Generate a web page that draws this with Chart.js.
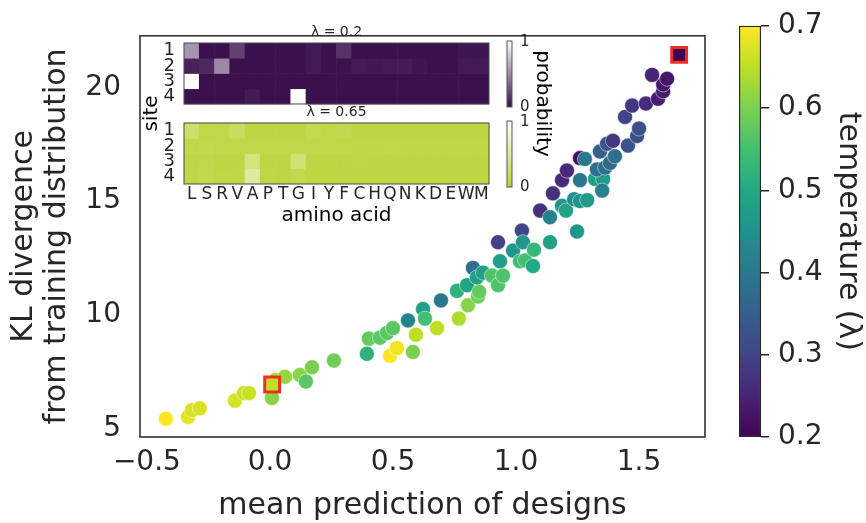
<!DOCTYPE html>
<html>
<head>
<meta charset="utf-8">
<script src="https://cdn.jsdelivr.net/npm/chart.js@4.4.1/dist/chart.umd.min.js"></script>
<style>
  html, body { margin: 0; padding: 0; background: #fff; }
  #wrap { position: relative; width: 866px; height: 523px; }
  canvas { position: absolute; }
</style>
</head>
<body>
<div id="wrap">
  <canvas id="mainChart" width="866" height="523" style="left:0;top:0"></canvas>
  <canvas id="cbarChart" width="146" height="523" style="left:720px;top:0"></canvas>
  <canvas id="insetChart" width="420" height="215" style="left:140px;top:17px"></canvas>
</div>
<script>
// データ
const meanPred = [-0.423, -0.333, -0.317, -0.285, -0.142, -0.106, -0.085, 0.008, 0.024, 0.061,
  0.122, 0.146, 0.171, 0.260, 0.394, 0.402, 0.447, 0.476, 0.500, 0.488,
  0.516, 0.581, 0.593, 0.679, 0.561, 0.622, 0.630, 0.695, 0.768, 0.805,
  0.760, 0.801, 0.846, 0.850, 0.825, 0.841, 0.866, 0.902, 0.927, 0.947,
  0.935, 0.927, 0.988, 1.024, 1.028, 1.016, 1.037, 1.073, 1.069, 1.138,
  1.098, 1.138, 1.187, 1.203, 1.248, 1.150, 1.187, 1.207, 1.260, 1.280,
  1.260, 1.236, 1.260, 1.289, 1.321, 1.354, 1.350, 1.329, 1.362, 1.382,
  1.402, 1.341, 1.370, 1.394, 1.455, 1.492, 1.500, 1.443, 1.472, 1.528,
  1.577, 1.598, 1.598, 1.614, 1.553];
const klDiv = [5.42, 5.50, 5.80, 5.88, 6.22, 6.55, 6.55, 6.34, 7.14, 7.27,
  7.35, 7.06, 7.69, 7.98, 8.28, 8.95, 8.99, 9.20, 9.41, 8.19,
  8.53, 8.36, 9.12, 9.41, 9.75, 10.25, 9.83, 10.63, 9.83, 10.42,
  11.05, 11.30, 10.80, 11.01, 12.06, 11.64, 11.85, 11.72, 11.30, 11.72,
  12.35, 13.19, 12.82, 13.70, 13.19, 12.35, 12.39, 12.86, 12.14, 13.19,
  14.58, 14.29, 14.79, 14.58, 13.66, 15.34, 15.92, 16.34, 16.89, 16.85,
  15.92, 15.08, 15.00, 15.04, 15.97, 15.97, 15.46, 16.39, 16.47, 16.68,
  16.97, 17.18, 17.52, 17.65, 17.44, 17.86, 18.19, 18.70, 19.20, 19.29,
  19.50, 19.83, 20.13, 20.38, 20.55];
const temperature = [0.70, 0.68, 0.67, 0.67, 0.67, 0.66, 0.66, 0.61, 0.64, 0.62,
  0.61, 0.57, 0.60, 0.59, 0.52, 0.58, 0.57, 0.57, 0.57, 0.70,
  0.69, 0.60, 0.65, 0.65, 0.42, 0.48, 0.55, 0.40, 0.64, 0.61,
  0.52, 0.49, 0.59, 0.58, 0.38, 0.48, 0.48, 0.56, 0.56, 0.56,
  0.48, 0.30, 0.46, 0.30, 0.46, 0.54, 0.55, 0.53, 0.50, 0.48,
  0.27, 0.42, 0.46, 0.49, 0.46, 0.27, 0.26, 0.26, 0.22, 0.40,
  0.40, 0.45, 0.45, 0.47, 0.48, 0.47, 0.42, 0.38, 0.38, 0.37,
  0.38, 0.35, 0.33, 0.28, 0.33, 0.32, 0.32, 0.30, 0.28, 0.26,
  0.24, 0.24, 0.23, 0.23, 0.25];

// 赤枠で強調した2点 (インセットの λ に対応)
const markedPred = [0.009, 1.663];
const markedKl = [6.93, 21.43];
const markedTemp = [0.65, 0.2];

const xTicks = [-0.5, 0, 0.5, 1.0, 1.5];
const yTicks = [5, 10, 15, 20];
const tempTicks = [0.2, 0.3, 0.4, 0.5, 0.6, 0.7];

// インセット ヒートマップ
const aminoAcids = ['L', 'S', 'R', 'V', 'A', 'P', 'T', 'G', 'I', 'Y', 'F', 'C', 'H', 'Q', 'N', 'K', 'D', 'E', 'W', 'M'];
const sites = [1, 2, 3, 4];
const probLow = [
  [0.55, 0, 0, 0.2, 0, 0, 0, 0, 0.04, 0, 0.14, 0, 0, 0, 0, 0, 0, 0, 0.02, 0.02],
  [0.07, 0.1, 0.5, 0, 0, 0, 0, 0, 0.04, 0, 0, 0.04, 0.03, 0.04, 0.05, 0.02, 0, 0, 0.04, 0.04],
  [1.0, 0, 0, 0, 0, 0, 0, 0, 0, 0, 0, 0, 0, 0, 0, 0, 0, 0, 0, 0],
  [0, 0, 0, 0, 0.04, 0, 0, 1.0, 0, 0, 0, 0, 0, 0, 0, 0, 0, 0, 0, 0]
];
const probHigh = [
  [0.25, 0.08, 0.08, 0.2, 0.05, 0.05, 0.05, 0.05, 0.12, 0.07, 0.1, 0.05, 0.05, 0.05, 0.05, 0.05, 0.05, 0.05, 0.05, 0.05],
  [0.08, 0.1, 0.08, 0.08, 0.07, 0.07, 0.08, 0.07, 0.08, 0.07, 0.07, 0.06, 0.06, 0.07, 0.06, 0.06, 0.06, 0.06, 0.06, 0.06],
  [0.05, 0.07, 0.05, 0.05, 0.35, 0.05, 0.05, 0.3, 0.05, 0.05, 0.05, 0.06, 0.05, 0.05, 0.05, 0.05, 0.05, 0.05, 0.05, 0.05],
  [0.06, 0.1, 0.07, 0.06, 0.5, 0.06, 0.05, 0.1, 0.05, 0.05, 0.05, 0.05, 0.05, 0.05, 0.05, 0.05, 0.05, 0.05, 0.05, 0.05]
];

const FONT = "'DejaVu Sans', sans-serif";
const TEXT = '#262626';

const viridisStops = ['#440154', '#482475', '#414487', '#355f8d', '#2a788e', '#21918c',
  '#22a884', '#44bf70', '#7ad151', '#bddf26', '#fde725'];

function hexRgb(h) {
  return [parseInt(h.slice(1, 3), 16), parseInt(h.slice(3, 5), 16), parseInt(h.slice(5, 7), 16)];
}
function mix(a, b, t) {
  const A = hexRgb(a), B = hexRgb(b);
  return 'rgb(' + A.map((v, i) => Math.round(v + (B[i] - v) * t)).join(',') + ')';
}
function viridis(t) {
  t = Math.max(0, Math.min(1, t));
  const p = t * (viridisStops.length - 1);
  const i = Math.min(Math.floor(p), viridisStops.length - 2);
  return mix(viridisStops[i], viridisStops[i + 1], p - i);
}
const tempColor = (v) => viridis((v - 0.2) / 0.5);
const fmtTick = (v) => (v < 0 ? '\u2212' : '') + Math.abs(v).toFixed(1);

// 枠線 (上・右のスパインも描く)
const framePlugin = {
  id: 'frame',
  afterDraw(chart) {
    const { ctx, chartArea: a } = chart;
    ctx.save();
    ctx.strokeStyle = '#333333';
    ctx.lineWidth = 1.6;
    ctx.strokeRect(a.left, a.top, a.right - a.left, a.bottom - a.top);
    ctx.restore();
  }
};

new Chart(document.getElementById('mainChart'), {
  type: 'scatter',
  data: {
    datasets: [{
      data: meanPred.map((x, i) => ({ x: x, y: klDiv[i] })),
      pointRadius: 7.5,
      pointBackgroundColor: temperature.map(tempColor),
      pointBorderColor: 'rgba(255,255,255,0.8)',
      pointBorderWidth: 0.6,
      order: 1
    }, {
      data: markedPred.map((x, i) => ({ x: x, y: markedKl[i] })),
      pointStyle: 'rect',
      pointRadius: 10.5,
      pointBackgroundColor: markedTemp.map(tempColor),
      pointBorderColor: '#ec3026',
      pointBorderWidth: 3,
      order: 0
    }]
  },
  options: {
    responsive: false,
    animation: false,
    layout: { padding: { left: 0, top: 17, right: 161, bottom: 0 } },
    plugins: { legend: { display: false }, tooltip: { enabled: false } },
    scales: {
      x: {
        type: 'linear',
        min: -0.528,
        max: 1.768,
        afterBuildTicks: (s) => { s.ticks = xTicks.map(v => ({ value: v })); },
        afterFit: (s) => { s.height = 86; },
        grid: { display: false, drawTicks: false },
        border: { display: false },
        ticks: { color: TEXT, font: { family: FONT, size: 28 }, padding: 9, callback: fmtTick },
        title: { display: true, text: 'mean prediction of designs', color: TEXT, font: { family: FONT, size: 30, lineHeight: 1.1 }, padding: { top: 0, bottom: 0 } }
      },
      y: {
        type: 'linear',
        min: 4.62,
        max: 22.27,
        afterBuildTicks: (s) => { s.ticks = yTicks.map(v => ({ value: v })); },
        afterFit: (s) => { s.width = 140; },
        grid: { display: false, drawTicks: false },
        border: { display: false },
        ticks: { color: TEXT, font: { family: FONT, size: 28 }, padding: 19 },
        title: { display: true, text: ['KL divergence', 'from training distribution'], color: TEXT, font: { family: FONT, size: 30, lineHeight: 1.1 }, padding: { top: 7.5, bottom: 0 } }
      }
    }
  },
  plugins: [framePlugin]
});

// カラーバー
new Chart(document.getElementById('cbarChart'), {
  type: 'bar',
  data: {
    labels: ['temperature'],
    datasets: [{
      data: [[tempTicks[0], tempTicks[tempTicks.length - 1]]],
      backgroundColor: (c) => {
        const a = c.chart.chartArea;
        if (!a) return '#21918c';
        const g = c.chart.ctx.createLinearGradient(0, a.bottom, 0, a.top);
        viridisStops.forEach((col, i) => g.addColorStop(i / (viridisStops.length - 1), col));
        return g;
      },
      borderColor: TEXT,
      borderWidth: 1.5,
      borderSkipped: false,
      barPercentage: 1,
      categoryPercentage: 1
    }]
  },
  options: {
    responsive: false,
    animation: false,
    layout: { padding: { left: 19, top: 17, right: 0, bottom: 86 } },
    plugins: { legend: { display: false }, tooltip: { enabled: false } },
    scales: {
      x: { display: false },
      y: {
        position: 'right',
        min: 0.2,
        max: 0.7,
        afterBuildTicks: (s) => { s.ticks = tempTicks.map(v => ({ value: v })); },
        afterFit: (s) => { s.width = 105; },
        grid: { drawOnChartArea: false, drawTicks: true, tickLength: 8, color: TEXT, lineWidth: 1.5 },
        border: { display: false },
        ticks: { color: TEXT, font: { family: FONT, size: 28 }, padding: 9, callback: (v) => v.toFixed(1) },
        title: { display: true, text: 'temperature (\u03bb)', color: TEXT, font: { family: FONT, size: 30, lineHeight: 1.1 }, padding: { top: 1.5, bottom: 0 } }
      }
    }
  }
});

// インセット: 2つのヒートマップを1つのチャートに
const lowBase = '#3a114d';
const highBase = '#b9d53a';
const rowGap = 5.25;
const heatRows = [];
sites.forEach((s, r) => {
  heatRows.push({
    data: aminoAcids.map(() => [s - 0.5, s + 0.5]),
    backgroundColor: probLow[r].map(p => mix(lowBase, '#ffffff', p))
  });
  heatRows.push({
    data: aminoAcids.map(() => [s - 0.5 + rowGap, s + 0.5 + rowGap]),
    backgroundColor: probHigh[r].map(p => mix(highBase, '#ffffff', p))
  });
});
heatRows.forEach(d => { d.grouped = false; d.barPercentage = 1; d.categoryPercentage = 1; d.borderWidth = 0; });

const insetDecor = {
  id: 'insetDecor',
  afterDraw(chart) {
    const { ctx, chartArea: a, scales: { y } } = chart;
    const maps = [
      { top: y.getPixelForValue(0.5), bottom: y.getPixelForValue(4.5), title: '\u03bb = 0.2', base: lowBase },
      { top: y.getPixelForValue(0.5 + rowGap), bottom: y.getPixelForValue(4.5 + rowGap), title: '\u03bb = 0.65', base: highBase }
    ];
    ctx.save();
    maps.forEach(m => {
      ctx.strokeStyle = '#4a4a4a';
      ctx.lineWidth = 1;
      ctx.strokeRect(a.left, m.top, a.right - a.left, m.bottom - m.top);
      ctx.fillStyle = TEXT;
      ctx.font = '14px ' + FONT;
      ctx.textAlign = 'center';
      ctx.textBaseline = 'middle';
      ctx.fillText(m.title, (a.left + a.right) / 2, m.top - 11);
      // 確率カラーバー
      const cx = a.right + 18, cTop = m.top - 2, cBot = m.bottom + 3;
      const g = ctx.createLinearGradient(0, cBot, 0, cTop);
      g.addColorStop(0, m.base);
      g.addColorStop(1, '#ffffff');
      ctx.fillStyle = g;
      ctx.fillRect(cx, cTop, 5, cBot - cTop);
      ctx.strokeStyle = '#555555';
      ctx.strokeRect(cx, cTop, 5, cBot - cTop);
      ctx.fillStyle = TEXT;
      ctx.font = '15px ' + FONT;
      ctx.textAlign = 'left';
      ctx.fillText('1', cx + 13, cTop + 1);
      ctx.fillText('0', cx + 13, cBot);
    });
    ctx.translate(a.right + 53, (maps[0].top + maps[1].bottom) / 2 - 10);
    ctx.rotate(Math.PI / 2);
    ctx.font = '20px ' + FONT;
    ctx.textAlign = 'center';
    ctx.fillStyle = '#000';
    ctx.fillText('probability', 0, 0);
    ctx.restore();
  }
};

const siteTickPos = sites.concat(sites.map(s => s + rowGap));

new Chart(document.getElementById('insetChart'), {
  type: 'bar',
  data: { labels: aminoAcids, datasets: heatRows },
  options: {
    responsive: false,
    animation: false,
    layout: { padding: { left: 0, top: 26, right: 71, bottom: 0 } },
    plugins: { legend: { display: false }, tooltip: { enabled: false } },
    scales: {
      x: {
        grid: { display: false, drawTicks: false },
        border: { display: false },
        afterFit: (s) => { s.height = 48; },
        ticks: { autoSkip: false, maxRotation: 0, color: TEXT, font: { family: FONT, size: 17 }, padding: 0 },
        title: { display: true, text: 'amino acid', color: '#000', font: { family: FONT, size: 20 }, padding: { top: 0, bottom: 4 } }
      },
      y: {
        type: 'linear',
        min: 0.5,
        max: 4.5 + rowGap,
        reverse: true,
        afterBuildTicks: (s) => { s.ticks = siteTickPos.map(v => ({ value: v })); },
        afterFit: (s) => { s.width = 44; },
        grid: { display: false, drawTicks: false },
        border: { display: false },
        ticks: { autoSkip: false, color: TEXT, font: { family: FONT, size: 18, lineHeight: 0.8 }, padding: 9, callback: (v) => String(v > rowGap ? Math.round(v - rowGap) : v) },
        title: { display: true, text: 'site', color: '#000', font: { family: FONT, size: 20 }, padding: { top: 0, bottom: 0 } }
      }
    }
  },
  plugins: [insetDecor]
});
</script>
</body>
</html>
